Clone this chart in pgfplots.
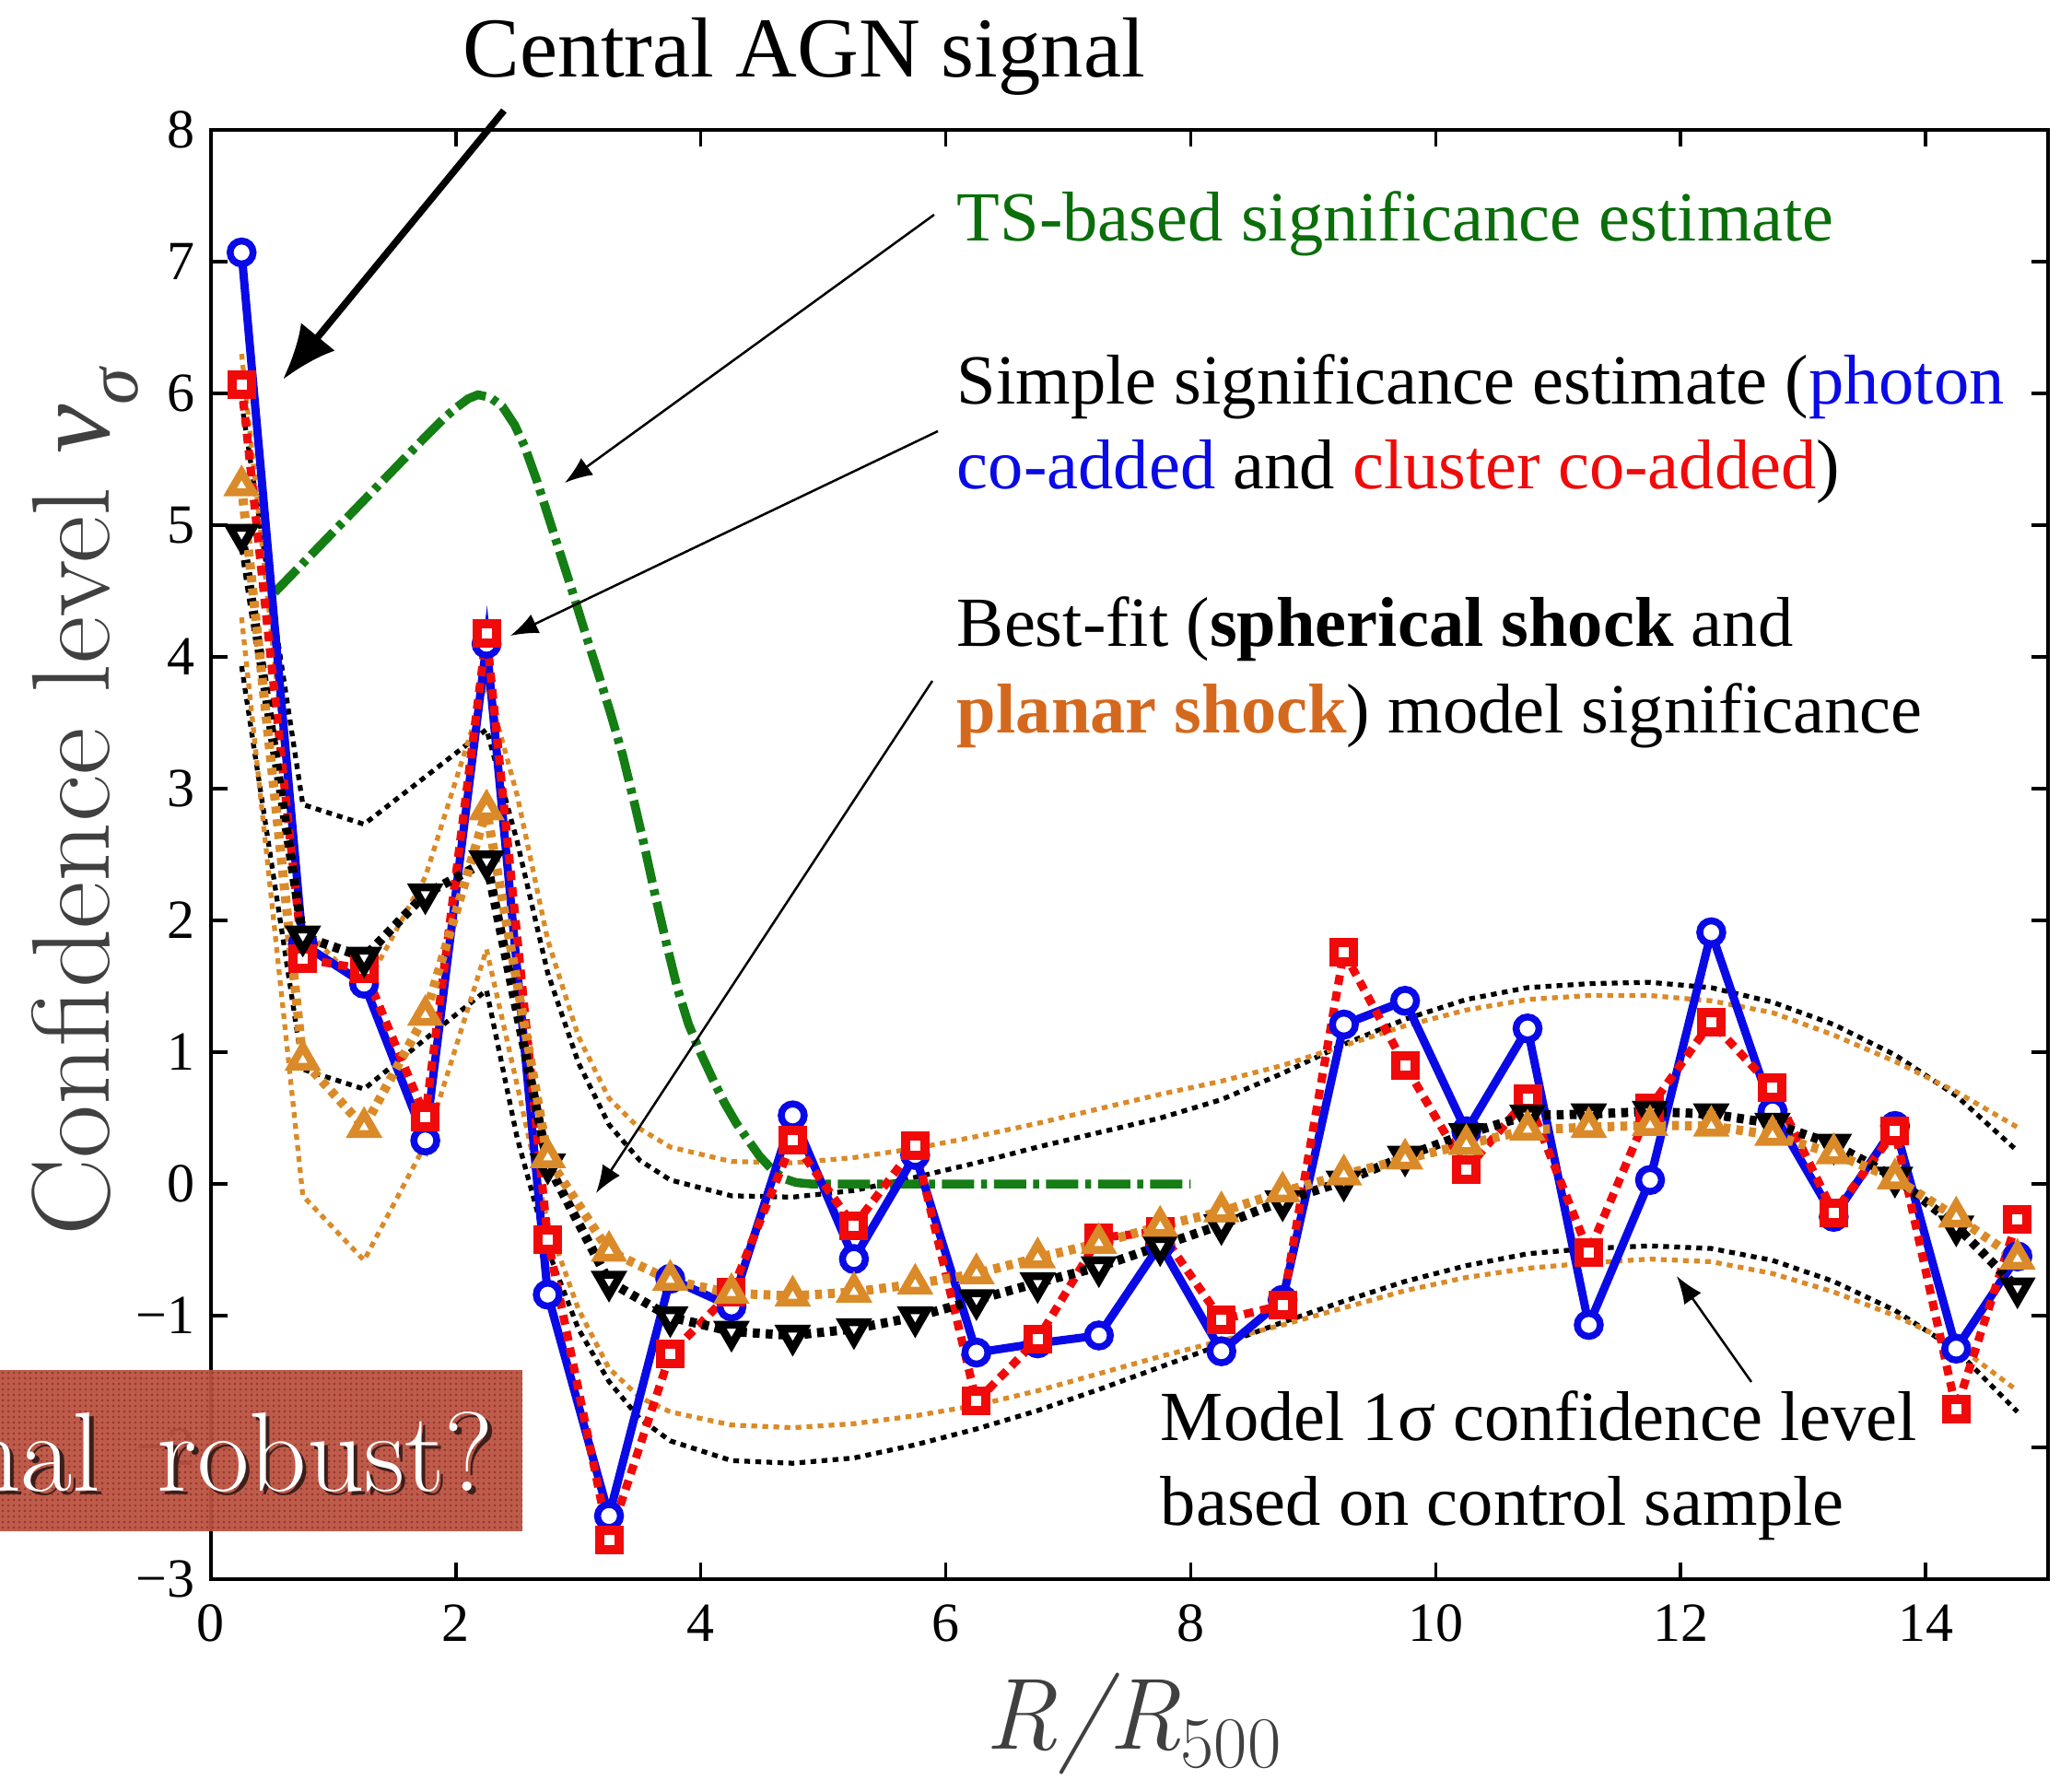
\documentclass[border=0pt]{standalone}
\usepackage{fontspec}
\usepackage{pgfplots}
\pgfplotsset{compat=1.18}
\usepackage{pgfplotstable}
\usetikzlibrary{arrows.meta, patterns}
\newfontfamily\tnr{Liberation Serif}

\definecolor{sigblue}{RGB}{10,10,230}
\definecolor{sigred}{RGB}{240,10,10}
\definecolor{planar}{RGB}{218,138,40}
\definecolor{planartxt}{RGB}{212,105,30}
\definecolor{tsgreen}{RGB}{20,125,20}
\definecolor{tstxt}{RGB}{10,110,10}
\definecolor{labgray}{RGB}{64,64,64}
\definecolor{boxred}{RGB}{186,82,64}
\definecolor{boxdot}{RGB}{150,55,45}
\definecolor{boxshadow}{RGB}{60,30,26}

% fine halftone dots for the banner
\pgfdeclarepatternformonly{finedots}{\pgfqpoint{-0.4pt}{-0.4pt}}{\pgfqpoint{1.6pt}{1.6pt}}{\pgfqpoint{1.2pt}{1.2pt}}{%
  \pgfpathcircle{\pgfqpoint{0.6pt}{0.6pt}}{0.28pt}\pgfusepath{fill}}

% photon co-added significance
\pgfplotstableread{
x y
0.25 7.07
0.75 1.82
1.25 1.52
1.75 0.33
2.25 4.10
2.75 -0.84
3.25 -2.52
3.75 -0.72
4.25 -0.93
4.75 0.52
5.25 -0.57
5.75 0.22
6.25 -1.28
6.75 -1.21
7.25 -1.15
7.75 -0.46
8.25 -1.27
8.75 -0.88
9.25 1.21
9.75 1.39
10.25 0.40
10.75 1.18
11.25 -1.07
11.75 0.03
12.25 1.91
12.75 0.55
13.25 -0.25
13.75 0.44
14.25 -1.25
14.75 -0.55
}\photon

% cluster co-added significance
\pgfplotstableread{
x y
0.25 6.07
0.75 1.71
1.25 1.63
1.75 0.51
2.25 4.18
2.75 -0.42
3.25 -2.70
3.75 -1.29
4.25 -0.82
4.75 0.33
5.25 -0.32
5.75 0.29
6.25 -1.65
6.75 -1.18
7.25 -0.41
7.75 -0.36
8.25 -1.03
8.75 -0.92
9.25 1.76
9.75 0.90
10.25 0.11
10.75 0.65
11.25 -0.52
11.75 0.58
12.25 1.23
12.75 0.73
13.25 -0.22
13.75 0.40
14.25 -1.71
14.75 -0.27
}\cluster

% spherical shock model
\pgfplotstableread{
x y
0.25 4.93
0.75 1.88
1.25 1.72
1.75 2.20
2.25 2.45
2.75 0.15
3.25 -0.74
3.75 -1.01
4.25 -1.12
4.75 -1.15
5.25 -1.10
5.75 -1.01
6.25 -0.88
6.75 -0.75
7.25 -0.63
7.75 -0.47
8.25 -0.31
8.75 -0.13
9.25 0.02
9.75 0.21
10.25 0.38
10.75 0.52
11.25 0.53
11.75 0.55
12.25 0.53
12.75 0.46
13.25 0.30
13.75 0.05
14.25 -0.32
14.75 -0.79
}\spherical

% planar shock model
\pgfplotstableread{
x y
0.25 5.30
0.75 0.94
1.25 0.43
1.75 1.28
2.25 2.84
2.75 0.20
3.25 -0.51
3.75 -0.73
4.25 -0.83
4.75 -0.85
5.25 -0.82
5.75 -0.76
6.25 -0.68
6.75 -0.56
7.25 -0.45
7.75 -0.32
8.25 -0.21
8.75 -0.06
9.25 0.07
9.75 0.19
10.25 0.30
10.75 0.41
11.25 0.43
11.75 0.445
12.25 0.44
12.75 0.37
13.25 0.23
13.75 0.04
14.25 -0.25
14.75 -0.57
}\planarm

% 1 sigma bands from the control sample: x, spherical upper/lower, planar upper/lower
\pgfplotstableread{
x su sl pu pl
0.25 5.93 3.93 6.30 4.30
0.75 2.88 0.87 1.95 -0.09
1.25 2.73 0.72 1.48 -0.58
1.75 3.09 1.10 2.33 0.30
2.25 3.45 1.47 3.80 1.78
2.50 2.60 0.35 2.95 0.75
2.75 1.60 -0.50 1.85 -0.30
3.00 0.92 -1.10 1.12 -0.95
3.25 0.45 -1.50 0.65 -1.40
3.50 0.18 -1.78 0.42 -1.62
3.75 0.03 -1.95 0.28 -1.73
4.25 -0.09 -2.10 0.17 -1.83
4.75 -0.10 -2.12 0.16 -1.85
5.25 -0.05 -2.08 0.20 -1.82
5.75 0.05 -1.98 0.27 -1.76
6.25 0.16 -1.86 0.36 -1.68
6.75 0.28 -1.72 0.46 -1.57
7.25 0.39 -1.56 0.57 -1.44
7.75 0.50 -1.39 0.68 -1.31
8.25 0.64 -1.22 0.78 -1.19
8.75 0.84 -1.05 0.90 -1.07
9.25 1.06 -0.89 1.05 -0.94
9.75 1.25 -0.74 1.20 -0.81
10.25 1.40 -0.62 1.32 -0.71
10.75 1.49 -0.53 1.40 -0.64
11.25 1.52 -0.49 1.43 -0.60
11.75 1.53 -0.47 1.43 -0.57
12.25 1.49 -0.49 1.39 -0.59
12.75 1.38 -0.58 1.30 -0.68
13.25 1.21 -0.74 1.13 -0.82
13.75 0.98 -0.96 0.93 -1.00
14.25 0.67 -1.26 0.70 -1.22
14.75 0.25 -1.73 0.43 -1.57
}\bands

% TS-based significance
\pgfplotstableread{
x y
0.52 4.49
0.75 4.71
1.00 4.95
1.25 5.19
1.50 5.43
1.75 5.67
1.90 5.81
2.00 5.89
2.10 5.96
2.18 5.99
2.28 5.97
2.38 5.90
2.48 5.76
2.56 5.60
2.66 5.34
2.76 5.05
2.86 4.76
2.96 4.47
3.06 4.17
3.16 3.88
3.26 3.58
3.36 3.26
3.46 2.88
3.54 2.56
3.62 2.22
3.72 1.82
3.81 1.48
3.90 1.21
4.00 0.99
4.10 0.79
4.19 0.62
4.29 0.46
4.38 0.34
4.48 0.21
4.58 0.11
4.68 0.04
4.78 0.01
4.90 0.00
8.00 0.00
}\tsbased

\begin{document}
\begin{tikzpicture}
\useasboundingbox (0,0) rectangle (449.8pt,-386.2pt);

\begin{axis}[
  at={(45.8pt,-342.8pt)}, anchor=south west,
  width=398.8pt, height=314.6pt, scale only axis,
  xmin=0, xmax=15, ymin=-3, ymax=8,
  xtick={0,2,...,14}, xticklabels={0,2,4,6,8,10,12,14},
  ytick={-3,-2,...,8}, yticklabels={−3,−2,−1,0,1,2,3,4,5,6,7,8},
  tick align=inside, major tick length=3.6pt,
  tick style={black, line width=0.7pt},
  axis line style={line width=0.8pt},
  ticklabel style={font=\tnr\fontsize{12}{12}\selectfont},
  xticklabel style={yshift=-2pt},
  band/.style={line width=1.05pt, dash pattern=on 1.25pt off 1.15pt},
  model/.style={line width=2pt, dash pattern=on 1.5pt off 1.3pt, mark=triangle*, mark size=2.9pt},
]
% control-sample confidence bands
\addplot[band, black] table[x=x, y=su] {\bands};
\addplot[band, black] table[x=x, y=sl] {\bands};
\addplot[band, planar] table[x=x, y=pu] {\bands};
\addplot[band, planar] table[x=x, y=pl] {\bands};

% TS-based estimate
\addplot[tsgreen, line width=1.9pt, dash pattern=on 7pt off 1.5pt on 1.3pt off 1.5pt] table {\tsbased};

% simple estimates
\addplot[sigblue, line width=1.8pt, mark=*, mark size=2.5pt,
  mark options={fill=white, draw=sigblue, line width=1.5pt}] table {\photon};
\addplot[sigred, line width=1.8pt, dash pattern=on 2.1pt off 1.5pt, mark=square*, mark size=2.1pt,
  mark options={solid, fill=white, draw=sigred, line width=2pt}] table {\cluster};

% best-fit models
\addplot[black, model,
  mark options={solid, rotate=180, fill=white, draw=black, line width=1.7pt}] table {\spherical};
\addplot[planar, model,
  mark options={solid, fill=white, draw=planar, line width=1.7pt}] table {\planarm};
\end{axis}

\begin{scope}[x=0.2pt, y=-0.2pt]
  % axis titles
  \node[rotate=90, anchor=base, inner sep=0, text=labgray, font=\fontsize{24}{24}\selectfont]
    at (119,871) {\scalebox{1.05}[1]{Confidence level} {\tnr\itshape ν\raisebox{-0.25em}{\fontsize{16}{16}\selectfont σ}}};
  \node[anchor=base, inner sep=0, text=labgray, font=\fontsize{22}{22}\selectfont]
    at (1230,1898) {\itshape R/R\raisebox{-4pt}{\upshape\fontsize{15.8}{15.8}\selectfont 500}};

  % annotations
  \node[anchor=base west, inner sep=0, font=\tnr\fontsize{18.5}{18.5}\selectfont] at (502,83) {Central AGN signal};
  \draw[line width=1.5pt, -{Latex[length=12pt,width=9.5pt]}] (547,120) -- (307,412);

  \begin{scope}[every node/.style={anchor=base west, inner sep=0, font=\tnr\fontsize{15.3}{15.3}\selectfont}]
    \node[text=tstxt] at (1038,261) {TS-based significance estimate};
    \node at (1038,438) {Simple significance estimate (\textcolor{sigblue}{photon}};
    \node at (1038,530) {\textcolor{sigblue}{co-added} and \textcolor{sigred}{cluster co-added})};
    \node at (1038,701) {Best-fit (\textbf{spherical shock} and};
    \node at (1038,795) {\textcolor{planartxt}{\textbf{planar shock}}) model significance};
    \node at (1259,1563) {Model 1σ confidence level};
    \node at (1259,1655) {based on control sample};
  \end{scope}

  \begin{scope}[line width=0.5pt, -{Latex[length=6pt,width=4.5pt]}]
    \draw (1014,233) -- (613,524);
    \draw (1018,468) -- (554,690);
    \draw (1012,739) -- (647,1295);
    \draw (1901,1500) -- (1820,1385);
  \end{scope}

  % question banner, text with a drop shadow
  \begin{scope}
    \clip (0,1487) rectangle (567,1662);
    \fill[boxred, fill opacity=0.95] (0,1487) rectangle (567,1662);
    \fill[pattern=finedots, pattern color=boxdot] (0,1487) rectangle (567,1662);
    \node[anchor=base east, inner sep=0, text=white, font=\fontsize{24.5}{24.5}\selectfont]
      at (537,1618) {\makebox[0pt][l]{\hspace{0.9pt}\raisebox{-0.9pt}{\textcolor{boxshadow}{Is the signal\hspace{0.5em}robust?}}}Is the signal\hspace{0.5em}robust?};
  \end{scope}
\end{scope}
\end{tikzpicture}
\end{document}
